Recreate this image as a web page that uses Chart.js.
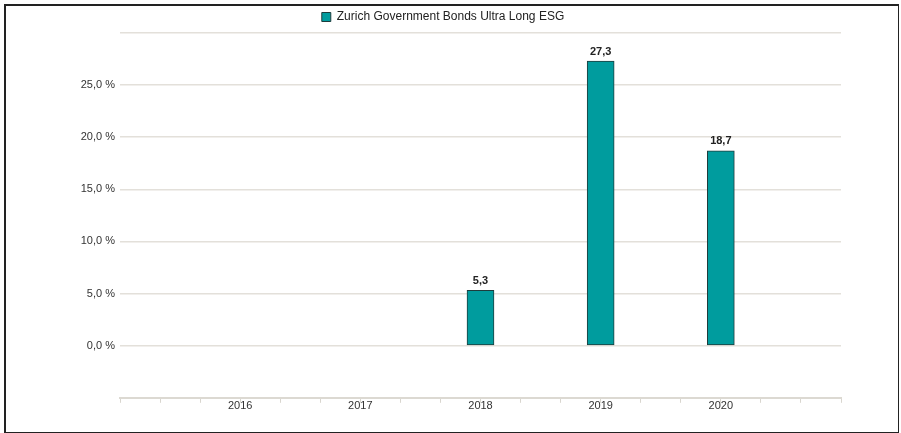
<!DOCTYPE html>
<html>
<head>
<meta charset="utf-8">
<script src="https://cdn.jsdelivr.net/npm/chart.js@4.4.0/dist/chart.umd.min.js"></script>
<style>
  html, body { margin: 0; padding: 0; background: #fff; }
  #frame {
    position: absolute; left: 4px; top: 4px; width: 892px; height: 426px;
    border: 2px solid #222; border-right-width: 1px;
  }
  #wrap { position: absolute; left: 0; top: 0; width: 901px; height: 433px; }
</style>
</head>
<body>
<div id="frame"></div>
<div id="wrap"><canvas id="perfChart"></canvas></div>
<script>
// Jahresperformance
const years = [2016, 2017, 2018, 2019, 2020];
const performance = [null, null, 5.3, 27.3, 18.7];
const seriesName = 'Zurich Government Bonds Ultra Long ESG';
const yTicks = [0, 5, 10, 15, 20, 25];

const comma = v => v.toFixed(1).replace('.', ',');

// Werte ueber den Balken
const valueLabels = {
    id: 'valueLabels',
    afterDatasetsDraw(chart) {
        const ctx = chart.ctx;
        const meta = chart.getDatasetMeta(0);
        ctx.save();
        ctx.font = 'bold 11px "Liberation Sans", Arial, sans-serif';
        ctx.fillStyle = '#222';
        ctx.textAlign = 'center';
        ctx.textBaseline = 'bottom';
        meta.data.forEach((bar, i) => {
            const v = performance[i];
            if (v === null) return;
            ctx.fillText(comma(v), bar.x, bar.y - 4);
        });
        ctx.restore();
    }
};

document.addEventListener('DOMContentLoaded', function() {
    const ctx = document.getElementById('perfChart').getContext('2d');
    new Chart(ctx, {
        type: 'bar',
        data: {
            datasets: [{
                label: seriesName,
                data: years.map((y, i) => ({ x: y, y: performance[i] })),
                backgroundColor: '#009c9e',
                borderColor: '#1e3c3c',
                borderWidth: 1,
                borderSkipped: false,
                barThickness: 27
            }]
        },
        options: {
            responsive: true,
            maintainAspectRatio: false,
            animation: false,
            layout: { padding: { left: 45, right: 60, top: 4, bottom: 23 } },
            plugins: {
                legend: {
                    position: 'top',
                    labels: {
                        boxWidth: 9,
                        boxHeight: 9,
                        color: '#222',
                        padding: 7,
                        font: { size: 12, family: '"Liberation Sans", Arial, sans-serif' }
                    }
                },
                tooltip: { enabled: false }
            },
            scales: {
                x: {
                    type: 'linear',
                    offset: false,
                    min: years[0] - 1,
                    max: years[years.length - 1] + 1,
                    afterBuildTicks: function(scale) {
                        const t = [];
                        for (let k = 0; k <= 18; k++) t.push({ value: scale.min + k / 3 });
                        scale.ticks = t;
                    },
                    ticks: {
                        autoSkip: false,
                        maxRotation: 0,
                        padding: -3,
                        color: '#333',
                        font: { size: 11, family: '"Liberation Sans", Arial, sans-serif' },
                        callback: function(v) {
                            const r = Math.round(v);
                            return (Math.abs(v - r) < 0.01 && years.includes(r)) ? String(r) : '';
                        }
                    },
                    grid: {
                        offset: false,
                        drawOnChartArea: false,
                        drawTicks: true,
                        tickLength: 5,
                        color: '#d9d6cf'
                    },
                    border: { color: '#dcd9d2', width: 2 }
                },
                y: {
                    min: -5,
                    max: 30,
                    afterFit: function(scale) { scale.width = 75; },
                    ticks: {
                        stepSize: 5,
                        padding: 5,
                        color: '#333',
                        font: { size: 11, family: '"Liberation Sans", Arial, sans-serif' },
                        callback: function(v) {
                            return yTicks.includes(v) ? comma(v) + ' %' : '';
                        }
                    },
                    grid: {
                        drawTicks: false,
                        color: '#e3e0da',
                        lineWidth: 1.5
                    },
                    border: { display: false }
                }
            }
        },
        plugins: [valueLabels]
    });
});
</script>
</body>
</html>
